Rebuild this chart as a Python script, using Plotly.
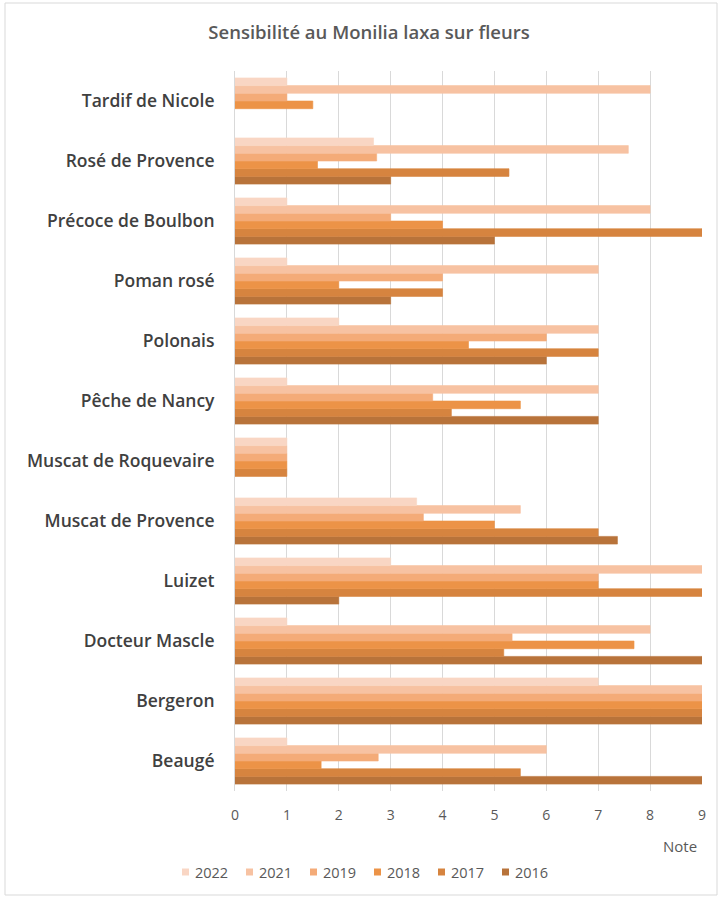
import plotly.graph_objects as go

categories = ["Beaugé", "Bergeron", "Docteur Mascle", "Luizet", "Muscat de Provence",
              "Muscat de Roquevaire", "Pêche de Nancy", "Polonais", "Poman rosé",
              "Précoce de Boulbon", "Rosé de Provence", "Tardif de Nicole"]

v2022 = [1, 7, 1, 3, 3.5, 1, 1, 2, 1, 1, 2.67, 1]
v2021 = [6, 9, 8, 9, 5.5, 1, 7, 7, 7, 8, 7.58, 8]
v2019 = [2.76, 9, 5.34, 7, 3.63, 1, 3.81, 6, 4, 3, 2.73, 1]
v2018 = [1.66, 9, 7.69, 7, 5, 1, 5.5, 4.5, 2, 4, 1.59, 1.5]
v2017 = [5.5, 9, 5.18, 9, 7, 1, 4.17, 7, 4, 9, 5.28, None]
v2016 = [9, 9, 9, 2, 7.37, None, 7, 6, 3, 5, 3, None]

series = [("2016", v2016, "#B8733A"), ("2017", v2017, "#D6843F"), ("2018", v2018, "#EC9347"),
          ("2019", v2019, "#F4AB78"), ("2021", v2021, "#F7C2A2"), ("2022", v2022, "#F9D6C4")]

fig = go.Figure()
for name, vals, col in series:
    fig.add_trace(go.Bar(y=categories, x=vals, name=name, orientation="h", showlegend=False,
                         marker=dict(color=col, line=dict(width=0.6, color=col))))

W, H = 723, 899
L, R, T, B = 235, 21, 71, 108
pw, ph = W - L - R, H - T - B

def px_x(p):
    return (p - L) / pw

def px_y(p):
    return (H - B - p) / ph

FONT = "Open Sans, Lato, sans-serif"

fig.update_layout(
    width=W, height=H,
    margin=dict(l=L, r=R, t=T, b=B),
    paper_bgcolor="white", plot_bgcolor="white",
    barmode="group", bargap=0.23, bargroupgap=0,
    font=dict(family=FONT, color="#595959"),
    title=dict(text="Sensibilité au Monilia laxa sur fleurs", x=369 / W, xref="container",
               xanchor="center", y=1 - 33 / H, yref="container", yanchor="middle",
               font=dict(size=18.5, color="#595959", family=FONT, weight=600)),
    xaxis=dict(range=[0, 9], dtick=1, tick0=0, showgrid=True, gridcolor="#D9D9D9",
               gridwidth=1, zeroline=False, showline=False,
               tickfont=dict(size=14, color="#595959"), ticks="", ticklabelstandoff=14),
    yaxis=dict(type="category", categoryorder="array", categoryarray=categories,
               showgrid=False, zeroline=False, showline=True, linecolor="#D9D9D9",
               tickfont=dict(size=17.5, color="#404040", family=FONT, weight=600),
               ticks="", ticklabelstandoff=16),
    showlegend=False,
)

# manual legend (reverse order: 2022 first)
leg_y = 872
for i, (name, vals, col) in enumerate(reversed(series)):
    sx = 182 + 64 * i
    fig.add_shape(type="rect", xref="paper", yref="paper",
                  x0=px_x(sx), x1=px_x(sx + 7), y0=px_y(leg_y + 3.5), y1=px_y(leg_y - 3.5),
                  line=dict(width=0), fillcolor=col)
    fig.add_annotation(text=name, xref="paper", yref="paper", x=px_x(sx + 11), y=px_y(leg_y),
                       xanchor="left", yanchor="middle", showarrow=False,
                       font=dict(size=14.5, color="#595959"))

fig.add_annotation(text="Note", xref="paper", yref="paper", x=px_x(699), y=px_y(846),
                   xanchor="right", yanchor="middle", showarrow=False,
                   font=dict(size=15, color="#595959"))

fig.add_shape(type="rect", xref="paper", yref="paper",
              x0=px_x(5), x1=px_x(717), y0=px_y(895), y1=px_y(3),
              line=dict(color="#D9D9D9", width=1), fillcolor="rgba(0,0,0,0)", layer="below")

fig.write_html("out.html")
